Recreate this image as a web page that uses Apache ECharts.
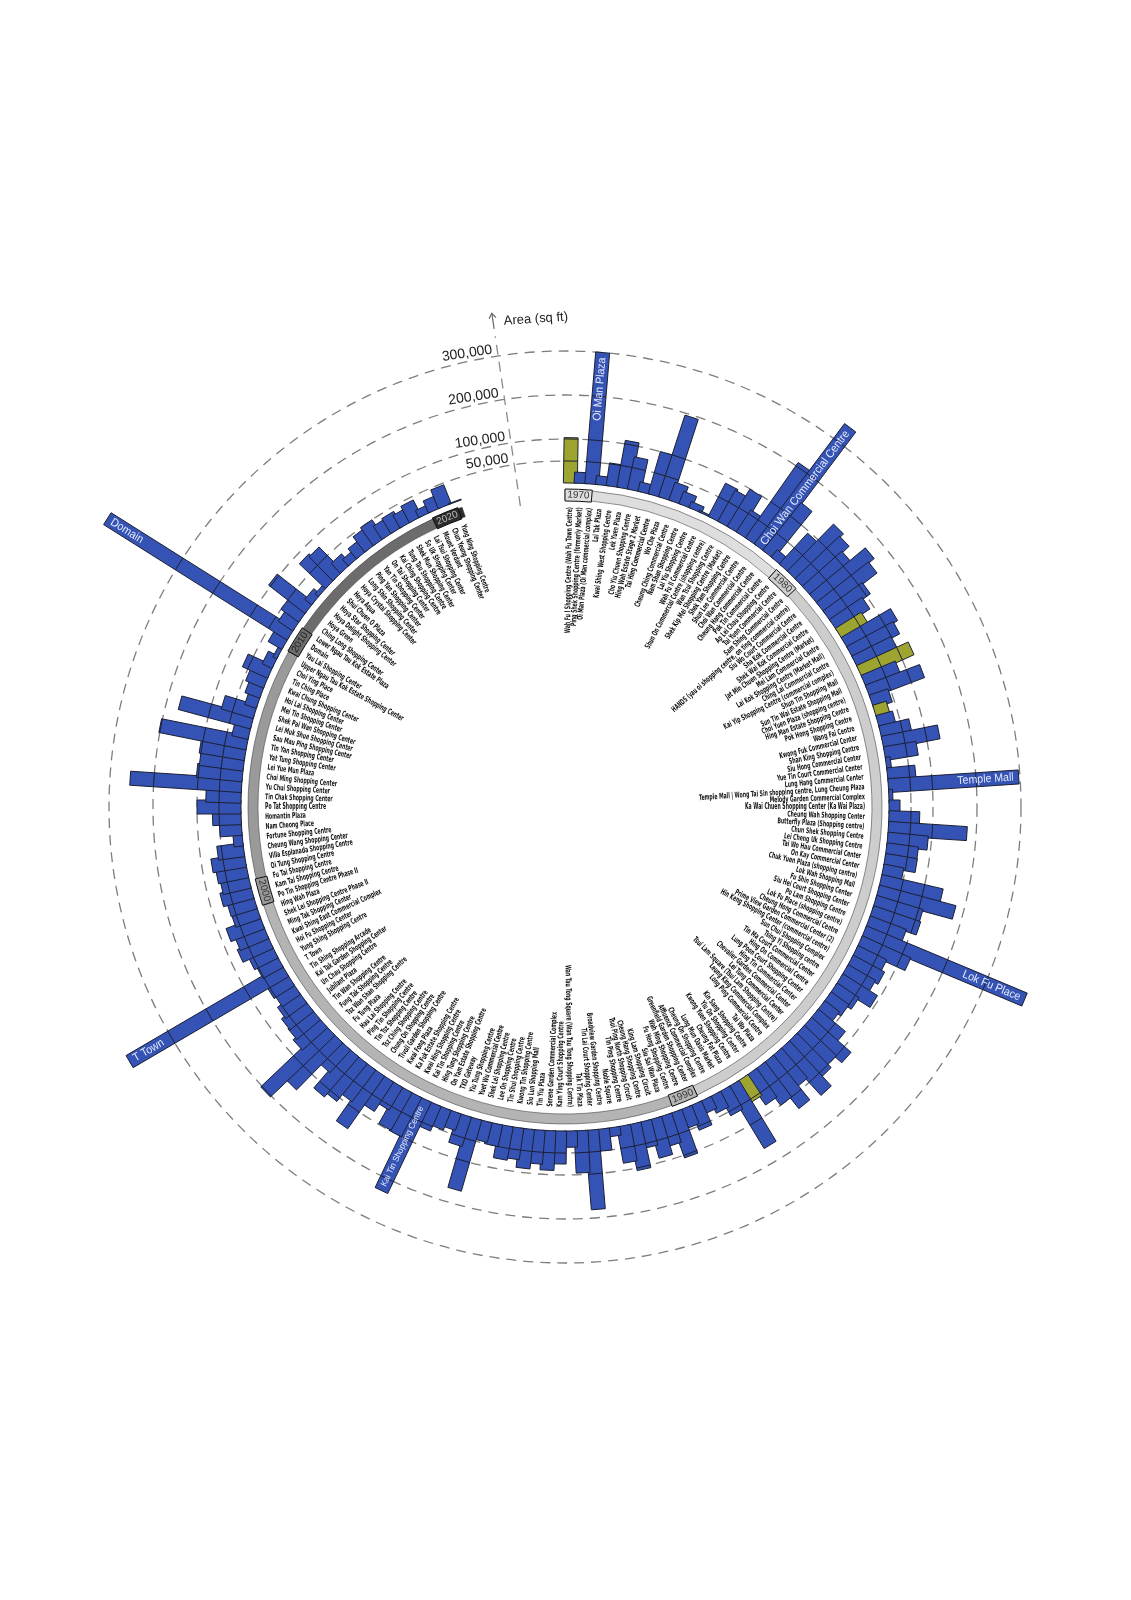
<!DOCTYPE html>
<html>
<head>
<meta charset="utf-8">
<script src="https://cdn.jsdelivr.net/npm/echarts@6/dist/echarts.min.js"></script>
<style>
html, body { margin: 0; padding: 0; background: #fff; }
#chart { width: 1131px; height: 1600px; }
</style>
</head>
<body>
<div id="chart"></div>
<script>
// shopping centres, clockwise from the top, oldest first
const names = [
  'Wah Fu I Shopping Centre (Wah Fu Town Centre)', 'Ping Shek Shopping Centre (formerly Market)', 'Oi Man Plaza (Oi Man commercial complex)',
  'Lai Tak Plaza', 'Kwai Shing West Shopping Centre', 'Lek Yuen Plaza', 'Cho Yiu Chuen Shopping Centre', 'Hing Wah Estate Stage 2 Market',
  'Tai Hing Commercial Centre', 'Wo Che Plaza', 'Cheung Ching Commercial Centre', 'Nam Shan Shopping Centre', 'Lai Yiu Shopping Centre',
  'Wah Fu II Commercial Centre', 'Shun On Commercial Centre (shopping centre)', 'Wan Tsui Shopping Centre', 'Shek Kip Mei Shopping Centre (Market)',
  'Shek Yam Shopping Centre', 'Shun Lee Commercial Centre', 'Choi Wan Commercial Centre', 'Cheung Hang Commercial Centre', 'Pak Tin Commercial Centre',
  'Ap Lei Chau Shopping Centre', 'Tai Yuen Commercial Centre', 'Sam Shing Commercial Centre', 'HANDS (yau oi shopping centre, on ting commercial centre)',
  'Siu Wo Court Commercial Centre', 'Sha Kok Commercial Centre', 'Shek Wai Kok Commercial Centre', 'Jat Min Chuen Shopping Centre (Market)',
  'Mei Lam Commercial Centre', 'Lai Kok Shopping Centre (Market Mall)', 'Ching Lai Commercial Centre', 'Kai Yip Shopping Centre (commercial complex)',
  'Shun Tin Shopping Mall', 'Sun Tin Wai Estate Shopping Mall', 'Choi Yuen Plaza (shopping centre)', 'Hing Man Estate Shopping Centre',
  'Pok Hong Shopping Centre', 'Wang Fai Centre', 'Kwong Fuk Commercial Center', 'Shan King Shopping Centre', 'Siu Hong Commercial Center',
  'Yue Tin Court Commercial Center', 'Lung Hang Commercial Center', 'Temple Mall | Wong Tai Sin shopping centre, Lung Cheung Plaza',
  'Melody Garden Commercial Complex', 'Ka Wai Chuen Shopping Center (Ka Wai Plaza)', 'Cheung Wah Shopping Center', 'Butterfly Plaza (Shopping centre)',
  'Chun Shek Shopping Centre', 'Lei Cheng Uk Shopping Centre', 'Tai Wo Hau Commercial Center', 'On Kay Commercial Center',
  'Chuk Yuen Plaza (shopping centre)', 'Lok Wah Shopping Mall', 'Fu Shin Shopping Center', 'Siu Hei Court Shopping Center', 'Po Lam Shopping Centre',
  'Lok Fu Place (shopping centre)', 'Cheung Hong Commercial Centre', 'Prime View Garden Commercial Center (2)', 'Hin Keng Shopping Center (commercial centre)',
  'Sun Chui Shopping Complex', 'Tsing Yi Shopping centre', 'Tin Ma Court Commercial Center', 'Hing On Commercial Centre', 'Lung Poon Court Shopping Center',
  'Hing Tin Commercial Center', 'Chevalier Garden Commercial Center', 'Lei Tung Commercial Center', 'Tsui Lam Square (Tsui Lam Shopping Centre)',
  'Leung King Commercial Complex', 'Long Ping Commercial Centre', 'Tai Wo Plaza', 'Kin Sang Shopping Centre', 'Yiu On Shopping Center',
  'Kwong Yuen Shopping Centre', 'Cheung Fat Plaza', 'Lung Mun Oasis Market', 'Cheung On Shopping Centre', 'Affluence Commercial Complex',
  'Greenfield Garden Shopping Center', 'Wah Ming Shopping Centre', 'Fu Heng Shopping Centre', 'Siu Sai Wan Plaza', 'King Lam Shopping Circuit',
  'Cheung Hang Shopping Centre', 'Tsui Ping North Shopping Circuit', 'Tin Ping Shopping Centre', 'Noble Square', 'Broadview Garden Shopping Centre',
  'Tin Lai Court Shopping Center', 'Tak Tin Plaza', 'Wan Tau Tong Square (Wan Tau Tong Shopping Centre)', 'Kam Ying Court Shopping Centre',
  'Serene Garden Commercial Complex', 'Tin Yiu Plaza', 'Siu Lun Shopping Mall', 'Kwong Tin Shopping Centre', 'Tin Shui Shopping Centre',
  'Lee On Shopping Centre', 'Shek Lei Shopping Centre', 'Yuet Wu Commercial Centre', 'Yiu Tung Shopping Centre', 'TKO Gateway',
  'On Yam Estate Shopping Centre', 'Hing Tung Shopping Centre', 'Kai Tin Shopping Centre', 'Kwai Hing Shopping Centre', 'Ka Fuk Estate Shopping Centre',
  'Kwai Fong Plaza', 'Tivoli Garden Shopping Centre', 'Chung On Shopping Centre', 'Tsz Ching Shopping Centre', 'Tin Tsz Shopping Centre',
  'Ping Tin Shopping Centre', 'Hau Lai Shopping Centre', 'Fu Tung Plaza', 'Tsz Wan Shan Shopping Centre', 'Fung Tak Shopping Centre',
  'Tin Wan Shopping Centre', 'Jubilant Plaza', 'Un Chau Shopping Centre', 'Kai Tak Garden Shopping Center', 'Tin Shing Shopping Arcade', 'T Town',
  'Yung Shing Shopping Centre', 'Hoi Fu Shopping Center', 'Kwai Shing East Commercial Complex', 'Ming Tak Shopping Center',
  'Shek Lei Shopping Centre Phase II', 'Hing Wah Plaza', 'Po Tin Shopping Centre Phase II', 'Kam Tai Shopping Centre', 'Fu Tai Shopping Centre',
  'Oi Tung Shopping Centre', 'Villa Esplanada Shopping Centre', 'Cheung Wang Shopping Center', 'Fortune Shopping Centre', 'Nam Cheong Place',
  'Homantin Plaza', 'Po Tat Shopping Centre', 'Tin Chak Shopping Center', 'Yu Chui Shopping Center', 'Choi Ming Shopping Center', 'Lei Yue Mun Plaza',
  'Yat Tung Shopping Center', 'Tin Yan Shopping Center', 'Sau Mau Ping Shopping Center', 'Lei Muk Shue Shopping Center', 'Shek Pai Wan Shopping Center',
  'Mei Tin Shopping Center', 'Hoi Lai Shopping Center', 'Kwai Chung Shopping Center', 'Tin Ching Place', 'Choi Ying Place',
  'Upper Ngau Tau Kok Estate Shopping Center', 'Yau Lai Shopping Center', 'Domain', 'Lower Ngau Tau Kok Estate Plaza', 'Ching Long Shopping Center',
  'Hoya Green', 'Hoya Delight Shopping Center', 'Hoya Star Shopping Center', 'Shui Chuen O Plaza', 'Hoya Aqua', 'Hoya Crystal Shopping Center',
  'Long Shin Shopping Center', 'Ping Yan Shopping Center', 'Yan Tin Shopping Center', 'On Tai Shopping Center', 'Kai Ching Shopping Centre',
  'Tung Tau Shopping Centre', 'Shek Mun Shopping Center', 'So Uk Shopping Center', 'Lai Tsui Shopping Center', 'Mount Verdant',
  'Chun Yeung Shopping Center', 'Yung Ning Shopping Centre'
];

// floor area, sq ft
const areas = [
  103000, 25000, 300000, 20000, 52000, 108000, 75000, 22000, 100000, 195000,
  43000, 30000, 15000, 4000, 85000, 81000, 99000, 60000, 209000, 342000,
  139000, 22000, 95000, 150000, 140000, 120000, 165000, 150000, 110000, 90000,
  69000, 130000, 120000, 100000, 129000, 84000, 132000, 45000, 32000, 39000,
  70000, 130000, 75000, 11000, 64000, 297000, 9000, 25000, 70000, 179000,
  92000, 72000, 73000, 46000, 143000, 180000, 110000, 113000, 88000, 396000,
  121000, 73000, 81000, 72000, 93000, 60000, 50000, 42000, 80000, 120000,
  100000, 110000, 140000, 90000, 131000, 100000, 80000, 57000, 162000, 60000,
  40000, 30000, 59000, 45000, 106000, 70000, 90000, 60000, 106000, 84000,
  20000, 50000, 181000, 96000, 37000, 75000, 90000, 77000, 90000, 72000,
  77000, 50000, 46000, 168000, 70000, 40000, 48000, 61000, 230000, 100000,
  98000, 60000, 80000, 146000, 90000, 110000, 120000, 70000, 150000, 203000,
  77000, 70000, 68000, 60000, 50000, 55000, 410000, 53000, 60000, 76000,
  70000, 82000, 60000, 62000, 72000, 65000, 70000, 77000, 60000, 21000,
  50000, 65000, 100000, 80000, 254000, 104000, 100000, 104000, 202000, 38000,
  170000, 76000, 28000, 36000, 44000, 63000, 25000, 10000, 36000, 493000,
  40000, 50000, 105000, 20000, 10000, 82000, 77000, 31000, 20000, 30000,
  44000, 50000, 36000, 40000, 33000, 42000, 18000, 30000, 46000, 2000
];

const greenNames = [
  'Wah Fu I Shopping Centre (Wah Fu Town Centre)', 'Mei Lam Commercial Centre', 'Shun Tin Shopping Mall',
  'Pok Hong Shopping Centre', 'Kwong Yuen Shopping Centre'
];

const calloutNames = [
  'Oi Man Plaza (Oi Man commercial complex)', 'Choi Wan Commercial Centre',
  'Temple Mall | Wong Tai Sin shopping centre, Lung Cheung Plaza', 'Lok Fu Place (shopping centre)',
  'Kai Tin Shopping Centre', 'T Town', 'Domain'
];
const calloutTexts = ['Oi Man Plaza', 'Choi Wan Commercial Centre', 'Temple Mall', 'Lok Fu Place', 'Kai Tin Shopping Centre', 'T Town', 'Domain'];

const decades = ['1970', '1980', '1990', '2000', '2010', '2020'];
const decadeStarts = [0, 22, 82, 133, 158, 177];
const decadeColors = ['#dedede', '#cdcdcd', '#b4b4b4', '#9a9a9a', '#6c6c6c', '#2c2c2c'];
const decadeText = ['#333', '#333', '#333', '#333', '#222', '#bbb'];

const tickValues = [50000, 100000, 200000, 300000];
const tickLabels = ['50,000', '100,000', '200,000', '300,000'];

const N = names.length;
const SLOTS = 190;          // angle axis span; the last slots leave the gap at the top
const AXIS_ANGLE = -4.45;   // where the radial value axis is drawn
const BLUE = '#3453b4', GREEN = '#9ea430', EDGE = '#1c2033';
const HALF = 7;             // half bar width, px
const LABEL_R = 300;        // radius where the name labels end
const RING_R0 = 307, RING_R1 = 317;
const NAME_FONT = '"Liberation Sans Narrow", "DejaVu Sans Condensed", "Roboto Condensed", "Liberation Sans", sans-serif';
const SANS = '"Liberation Sans", Arial, sans-serif';

const chart = echarts.init(document.getElementById('chart'));

function bearing (cs, p) {
  let b = Math.atan2(p[0] - cs.cx, -(p[1] - cs.cy));
  if (b < 0) b += Math.PI * 2;
  return b;
}

function gridItem (params, api) {
  const cs = params.coordSys;
  const p = api.coord([api.value(0), 0]);
  const r = Math.hypot(p[0] - cs.cx, p[1] - cs.cy);
  return {
    type: 'circle',
    shape: { cx: cs.cx, cy: cs.cy, r: r },
    style: { fill: 'none', stroke: '#7d7d7d', lineWidth: 1.3, lineDash: [10, 7] }
  };
}

function ringItem (params, api) {
  const cs = params.coordSys;
  const k = api.value(3);
  const b0 = bearing(cs, api.coord([0, api.value(1)]));
  let b1 = bearing(cs, api.coord([0, api.value(2)]));
  if (b1 <= b0) b1 += Math.PI * 2;
  const boxEnd = bearing(cs, api.coord([0, api.value(1) + 2.6]));
  const mid = (b0 + boxEnd) / 2;
  const rm = (RING_R0 + RING_R1) / 2;
  const flip = mid > Math.PI / 2 && mid < Math.PI * 1.5;
  return {
    type: 'group',
    children: [
      {
        type: 'sector',
        shape: { cx: cs.cx, cy: cs.cy, r0: RING_R0, r: RING_R1, startAngle: b0 - Math.PI / 2, endAngle: b1 - Math.PI / 2, clockwise: true },
        style: { fill: decadeColors[k], stroke: '#444', lineWidth: 0.6 }
      },
      {
        type: 'sector',
        shape: { cx: cs.cx, cy: cs.cy, r0: RING_R0 - 1, r: RING_R1 + 1, startAngle: b0 - Math.PI / 2, endAngle: boxEnd - Math.PI / 2, clockwise: true },
        style: { fill: decadeColors[k], stroke: '#111', lineWidth: 1 }
      },
      {
        type: 'text',
        x: cs.cx + Math.sin(mid) * rm,
        y: cs.cy - Math.cos(mid) * rm,
        rotation: flip ? Math.PI - mid : -mid,
        style: {
          text: decades[k], align: 'center', verticalAlign: 'middle',
          fontSize: 10, fontFamily: SANS, fill: decadeText[k]
        }
      }
    ]
  };
}

function barItem (params, api) {
  const cs = params.coordSys;
  const v = api.value(0), a = api.value(1), i = api.value(2);
  const b = api.coord([0, a]);
  const t = api.coord([v, a]);
  const dx = b[0] - cs.cx, dy = b[1] - cs.cy, len = Math.hypot(dx, dy);
  const ux = dx / len, uy = dy / len;
  const nx = -uy * HALF, ny = ux * HALF;
  const beta = bearing(cs, b);
  const right = beta < Math.PI;
  const rot = right ? Math.PI / 2 - beta : Math.PI * 1.5 - beta;
  const name = names[i];
  const children = [{
    type: 'polygon',
    shape: { points: [[b[0] + nx, b[1] + ny], [t[0] + nx, t[1] + ny], [t[0] - nx, t[1] - ny], [b[0] - nx, b[1] - ny]] },
    style: { fill: greenNames.includes(name) ? GREEN : BLUE, stroke: EDGE, lineWidth: 1 }
  }];
  tickValues.forEach(tv => {
    if (tv < v) {
      const c = api.coord([tv, a]);
      children.push({
        type: 'line',
        shape: { x1: c[0] + nx, y1: c[1] + ny, x2: c[0] - nx, y2: c[1] - ny },
        style: { stroke: EDGE, lineWidth: 1 }
      });
    }
  });
  children.push({
    type: 'text',
    x: cs.cx + ux * LABEL_R,
    y: cs.cy + uy * LABEL_R,
    rotation: rot,
    scaleX: 0.64,
    style: {
      text: name, align: right ? 'right' : 'left', verticalAlign: 'middle',
      fontSize: 8, fontWeight: 'bold', fontFamily: NAME_FONT, fill: '#111'
    }
  });
  const ci = calloutNames.indexOf(name);
  if (ci >= 0) {
    const txt = calloutTexts[ci];
    const barLen = Math.hypot(t[0] - b[0], t[1] - b[1]);
    const fs = Math.min(11.5, (barLen - 8) / (0.46 * txt.length));
    children.push({
      type: 'text',
      x: t[0] - ux * 5,
      y: t[1] - uy * 5,
      rotation: rot,
      scaleX: 0.92,
      style: {
        text: txt, align: right ? 'right' : 'left', verticalAlign: 'middle',
        fontSize: fs, fontFamily: SANS, fill: '#e4eafc'
      }
    });
  }
  return { type: 'group', children: children };
}

function axisItem (params, api) {
  const cs = params.coordSys;
  const p0 = api.coord([-45000, AXIS_ANGLE]);
  const p1 = api.coord([345000, AXIS_ANGLE]);
  const a0 = api.coord([362000, AXIS_ANGLE]);
  const a1 = api.coord([398000, AXIS_ANGLE]);
  const beta = bearing(cs, p1) - Math.PI * 2;
  const ux = Math.sin(beta), uy = -Math.cos(beta);   // outward
  const tx = uy, ty = -ux;                           // counter-clockwise tangent
  const children = [
    { type: 'line', shape: { x1: p0[0], y1: p0[1], x2: p1[0], y2: p1[1] }, style: { stroke: '#8a8a8a', lineWidth: 1.3, lineDash: [10, 7] } },
    { type: 'line', shape: { x1: a0[0], y1: a0[1], x2: a1[0], y2: a1[1] }, style: { stroke: '#666', lineWidth: 1.2 } },
    {
      type: 'polyline',
      shape: { points: [[a1[0] - ux * 5 + tx * 3.5, a1[1] - uy * 5 + ty * 3.5], [a1[0], a1[1]], [a1[0] - ux * 5 - tx * 3.5, a1[1] - uy * 5 - ty * 3.5]] },
      style: { stroke: '#666', lineWidth: 1.2, fill: 'none' }
    },
    {
      type: 'text',
      x: a1[0] + 12, y: a1[1] + 8, rotation: 0.07,
      style: { text: 'Area (sq ft)', align: 'left', verticalAlign: 'middle', fontSize: 13, fontFamily: SANS, fill: '#222' }
    }
  ];
  tickValues.forEach((tv, k) => {
    const c = api.coord([tv, AXIS_ANGLE]);
    children.push({
      type: 'text',
      x: c[0] + tx * 5, y: c[1] + ty * 5,
      rotation: -beta,
      style: { text: tickLabels[k], align: 'right', verticalAlign: 'bottom', fontSize: 14, fontFamily: SANS, fill: '#222' }
    });
  });
  return { type: 'group', children: children };
}

const option = {
  animation: false,
  backgroundColor: '#fff',
  polar: { center: [565, 807], radius: [324, 544] },
  angleAxis: { type: 'value', min: 0, max: SLOTS, startAngle: 90, clockwise: true, show: false },
  radiusAxis: { type: 'value', min: 0, max: 500000, show: false },
  series: [
    {
      type: 'custom', coordinateSystem: 'polar', clip: false, z: 1,
      encode: { radius: 0, angle: 1 },
      data: tickValues.map(tv => [tv, 0]),
      renderItem: gridItem
    },
    {
      type: 'custom', coordinateSystem: 'polar', clip: false, z: 2,
      encode: { radius: 0, angle: 1 },
      data: decades.map((d, k) => [0, decadeStarts[k], k + 1 < decades.length ? decadeStarts[k + 1] : N, k]),
      renderItem: ringItem
    },
    {
      type: 'custom', coordinateSystem: 'polar', clip: false, z: 3,
      encode: { radius: 0, angle: 1 },
      data: names.map((n, i) => [areas[i], i + 0.5, i]),
      renderItem: barItem
    },
    {
      type: 'custom', coordinateSystem: 'polar', clip: false, z: 4,
      encode: { radius: 0, angle: 1 },
      data: [[0, AXIS_ANGLE]],
      renderItem: axisItem
    }
  ]
};

chart.setOption(option);
</script>
</body>
</html>
